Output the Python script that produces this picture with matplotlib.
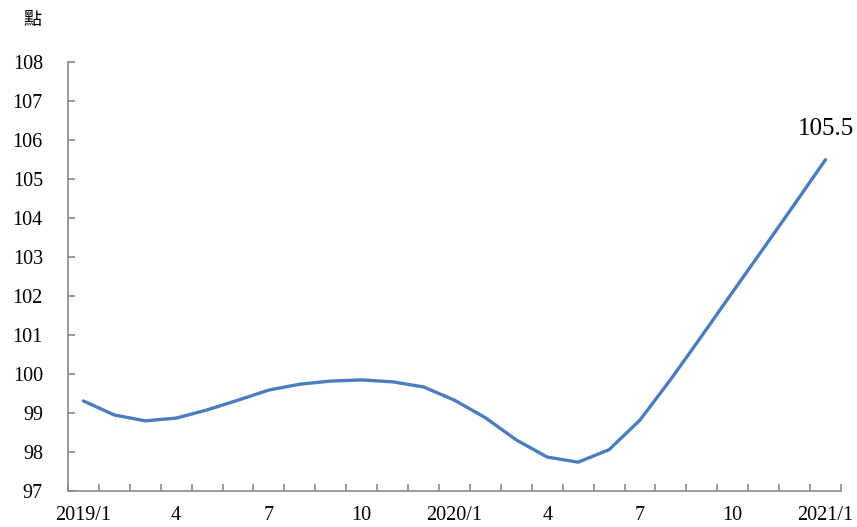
import matplotlib
matplotlib.use("Agg")
import numpy as np
import matplotlib.pyplot as plt

plt.rcParams['font.family'] = ['Liberation Serif', 'Noto Sans CJK TC']

# monthly index, 2019/1 .. 2021/1
months = ['2019/1', '2', '3', '4', '5', '6', '7', '8', '9', '10', '11', '12',
          '2020/1', '2', '3', '4', '5', '6', '7', '8', '9', '10', '11', '12',
          '2021/1']
values = [99.31, 98.95, 98.80, 98.87, 99.08, 99.33, 99.59, 99.74, 99.82, 99.85,
          99.80, 99.67, 99.33, 98.88, 98.31, 97.87, 97.74, 98.06, 98.82, 99.87,
          100.98, 102.11, 103.23, 104.36, 105.5]
label_every = 3

x = np.arange(len(months))

fig = plt.figure(figsize=(8.57, 5.27), dpi=100)
ax = fig.add_axes([0.0793, 0.0683, 0.902, 0.8137])

ax.plot(x, values, color='#4a7ebb', lw=2.4, solid_capstyle='round')

ax.set_xlim(-0.5, len(months) - 0.5)
ax.set_ylim(97, 108)
ax.set_yticks(np.arange(97, 109, 1))

# category labels every 3 months, tick marks on category boundaries
ax.set_xticks(x[::label_every])
ax.set_xticklabels([months[i] for i in x[::label_every]])
ax.set_xticks(np.arange(-0.5, len(months), 1), minor=True)
ax.tick_params(axis='x', which='major', length=0, pad=11, labelsize=14.5)
ax.tick_params(axis='x', which='minor', direction='in', length=5,
               color='#898989', width=1.2)
ax.tick_params(axis='y', direction='in', length=5, color='#898989', width=1.2,
               pad=18, labelsize=14.5)

for s in ['top', 'right']:
    ax.spines[s].set_visible(False)
for s in ['left', 'bottom']:
    ax.spines[s].set_color('#898989')
    ax.spines[s].set_linewidth(1.2)

ax.annotate(f'{values[-1]:.1f}', (x[-1], values[-1]), xytext=(0, 14),
            textcoords='offset points', ha='center', va='bottom', fontsize=18)

fig.text(0.038, 0.962, '點', fontsize=13, ha='center', va='center',
         family=['Noto Sans CJK TC'])

fig.savefig('out.png', dpi=100)
